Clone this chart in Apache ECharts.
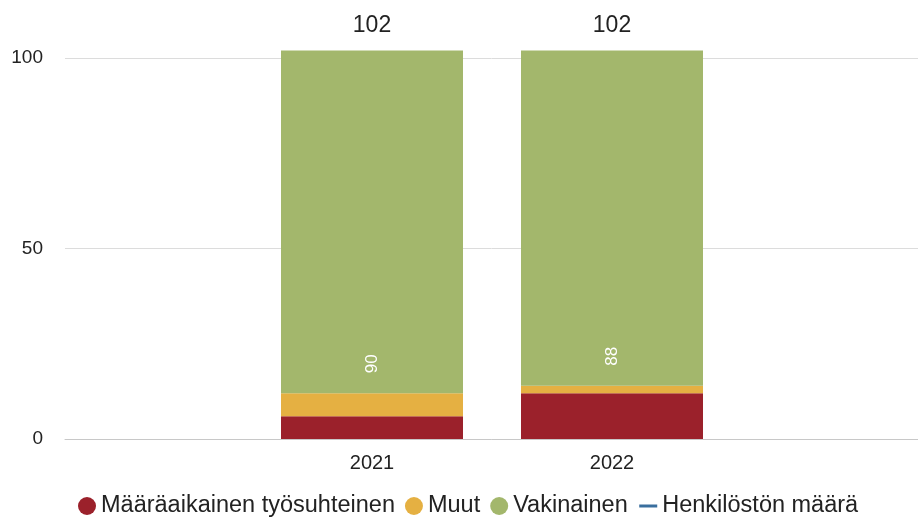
<!DOCTYPE html>
<html>
<head>
<meta charset="utf-8">
<script src="https://cdn.jsdelivr.net/npm/echarts@6/dist/echarts.min.js"></script>
<style>
  html, body { margin: 0; padding: 0; background: #fff; }
  #main { width: 918px; height: 518px; }
</style>
</head>
<body>
<div id="main"></div>
<script>
// vuodet ja sarjat
var years = ['2021', '2022'];
var maaraaikainen = [6, 12];
var muut = [6, 2];
var vakinainen = [90, 88];
var henkilosto = [102, 102];
var yTicks = [0, 50, 100];

var txt = '#222';
var font = 'Liberation Sans, Arial, sans-serif';

var myChart = echarts.init(document.getElementById('main'));
var option = {
    animation: false,
    textStyle: { fontFamily: font },
    grid: [
        // palkit
        { left: 252, right: 186, top: 58, bottom: 79 },
        // taustaviivat koko leveydeltä
        { left: 65, right: 0, top: 58, bottom: 79 }
    ],
    xAxis: [
        {
            type: 'category', gridIndex: 0, data: years,
            axisLine: { show: false }, axisTick: { show: false },
            axisLabel: { color: txt, fontSize: 20, margin: 14 }
        },
        {
            type: 'value', gridIndex: 1, min: 0, max: 1,
            axisLine: { show: true, lineStyle: { color: '#c8c8c8', width: 1 } },
            axisTick: { show: false }, axisLabel: { show: false }, splitLine: { show: false }
        }
    ],
    yAxis: [
        { type: 'value', gridIndex: 0, min: 0, max: yTicks[yTicks.length - 1], show: false },
        {
            type: 'value', gridIndex: 1, min: yTicks[0], max: yTicks[yTicks.length - 1], interval: 50,
            axisLine: { show: false }, axisTick: { show: false },
            axisLabel: { color: txt, fontSize: 19, margin: 22 },
            splitLine: { lineStyle: { color: '#dcdcdc', width: 1 } }
        }
    ],
    legend: {
        left: 73, bottom: -5,
        itemWidth: 18, itemHeight: 18, itemGap: 10,
        textStyle: { color: txt, fontSize: 23.5, fontFamily: font },
        data: [
            { name: 'Määräaikainen työsuhteinen', icon: 'circle' },
            { name: 'Muut', icon: 'circle' },
            { name: 'Vakinainen', icon: 'circle' },
            { name: 'Henkilöstön määrä', lineStyle: { opacity: 1, width: 3, color: '#3a6f9e' } }
        ]
    },
    series: [
        {
            name: 'Määräaikainen työsuhteinen', type: 'bar', stack: 'a', barWidth: 182, clip: false,
            itemStyle: { color: '#9b212b' }, data: maaraaikainen
        },
        {
            name: 'Muut', type: 'bar', stack: 'a', barWidth: 182, clip: false,
            itemStyle: { color: '#e5b042' }, data: muut
        },
        {
            name: 'Vakinainen', type: 'bar', stack: 'a', barWidth: 182, clip: false,
            itemStyle: { color: '#a3b76c' },
            label: {
                show: true, position: 'insideBottom', rotate: 90, distance: 20,
                align: 'left', verticalAlign: 'middle',
                color: '#fff', fontSize: 17
            },
            data: vakinainen
        },
        {
            name: 'Henkilöstön määrä', type: 'line', clip: false,
            color: '#3a6f9e',
            symbol: 'circle', symbolSize: 1,
            lineStyle: { opacity: 0 },
            itemStyle: { color: 'rgba(0,0,0,0)' },
            label: { show: true, position: 'top', distance: 13, color: txt, fontSize: 23 },
            data: henkilosto
        }
    ]
};
myChart.setOption(option);
</script>
</body>
</html>
